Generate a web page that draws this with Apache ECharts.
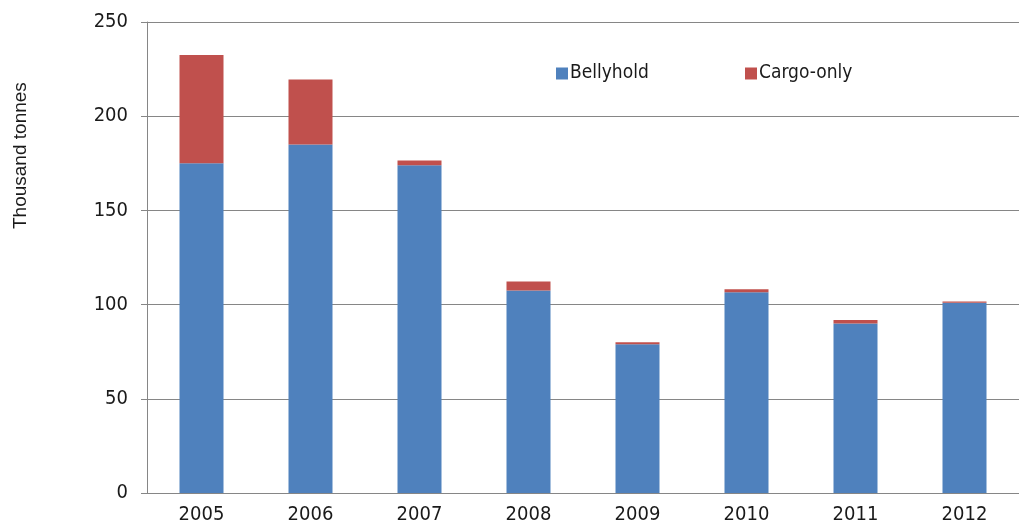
<!DOCTYPE html>
<html>
<head>
<meta charset="utf-8">
<script src="https://cdn.jsdelivr.net/npm/echarts@6/dist/echarts.min.js"></script>
<style>
    html, body { margin: 0; padding: 0; background: #fff; }
    #chart { width: 1019px; height: 526px; }
</style>
</head>
<body>
<div id="chart"></div>
<script>
const years = ['2005', '2006', '2007', '2008', '2009', '2010', '2011', '2012'];
const bellyhold = [175, 185, 174, 107.5, 79, 106.5, 90, 101];
const cargoOnly = [57.5, 34.5, 2.5, 4.7, 1, 1.6, 1.8, 0.7];
const yTicks = [0, 50, 100, 150, 200, 250];

// 原图的字偏窄偏高，用窄体
const font = '"Liberation Sans Narrow", "DejaVu Sans Condensed", Arial, sans-serif';
const axisGrey = '#868686';
const textColor = '#1a1a1a';

let myChart = echarts.init(document.getElementById('chart'));
myChart.setOption({
    'animation': false,
    'textStyle': { 'fontFamily': font },
    'grid': { 'left': 147, 'top': 22, 'width': 882, 'height': 471 },
    'legend': [{
        'data': ['Bellyhold'],
        'left': 551,
        'top': 59,
        'itemWidth': 12,
        'itemHeight': 12,
        'icon': 'rect',
        'textStyle': { 'fontSize': 19, 'color': textColor, 'fontFamily': font, 'padding': [0, 0, 0, -3] }
    }, {
        'data': ['Cargo-only'],
        'left': 740,
        'top': 59,
        'itemWidth': 12,
        'itemHeight': 12,
        'icon': 'rect',
        'textStyle': { 'fontSize': 19, 'color': textColor, 'fontFamily': font, 'padding': [0, 0, 0, -3] }
    }],
    'graphic': [{
        'type': 'text',
        'x': 11,
        'y': 229,
        'rotation': Math.PI / 2,
        'style': {
            'text': 'Thousand tonnes',
            'font': '19px "Liberation Sans", Arial, sans-serif',
            'fill': textColor
        }
    }],
    'xAxis': {
        'type': 'category',
        'data': years,
        'axisLine': { 'lineStyle': { 'color': axisGrey } },
        'axisTick': { 'length': 6, 'lineStyle': { 'color': axisGrey } },
        'axisLabel': { 'fontSize': 20, 'color': textColor, 'margin': 12 }
    },
    'yAxis': {
        'type': 'value',
        'min': yTicks[0],
        'max': yTicks[yTicks.length - 1],
        'interval': 50,
        'axisLine': { 'show': true, 'lineStyle': { 'color': axisGrey } },
        'axisTick': { 'show': true, 'length': 6, 'lineStyle': { 'color': axisGrey } },
        'axisLabel': { 'fontSize': 20, 'color': textColor, 'margin': 19 },
        'splitLine': { 'lineStyle': { 'color': axisGrey, 'width': 1 } }
    },
    'series': [{
        'name': 'Bellyhold',
        'type': 'bar',
        'stack': 'total',
        'barWidth': 44,
        'itemStyle': { 'color': '#4F81BD' },
        'data': bellyhold
    }, {
        'name': 'Cargo-only',
        'type': 'bar',
        'stack': 'total',
        'barWidth': 44,
        'itemStyle': { 'color': '#C0504D' },
        'data': cargoOnly
    }]
});
</script>
</body>
</html>
